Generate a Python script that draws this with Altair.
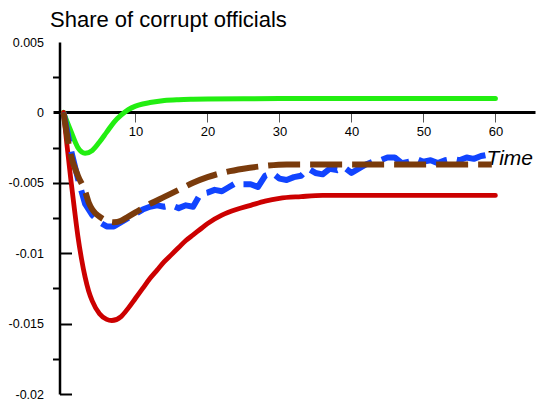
import altair as alt
import pandas as pd

# ---- data ----
G_T = [0, 1, 2, 3, 4, 5, 6, 7, 8, 9, 10, 11, 12, 13, 14, 16, 18, 20, 25, 30, 40, 50, 60]
G_Y = [0, -0.0013, -0.0025, -0.0029, -0.0027, -0.0021, -0.0014, -0.0007, -0.0002, 0.0002,
       0.00045, 0.0006, 0.0007, 0.00078, 0.00084, 0.0009, 0.00093, 0.00095, 0.00097, 0.00098,
       0.00098, 0.00098, 0.00098]

R_T = [0, 0.5, 1, 1.5, 2, 2.5, 3, 3.5, 4, 5, 6, 6.7, 8, 9, 10, 11, 12, 13, 14, 15, 16, 17, 18,
       19, 20, 22, 24, 26, 28, 30, 33, 36, 40, 50, 60]
R_Y = [0, -0.0024, -0.0047, -0.0068, -0.0088, -0.0104, -0.0117, -0.0127, -0.0134, -0.0143,
       -0.0147, -0.01478, -0.0145, -0.0139, -0.0132, -0.0125, -0.0118, -0.0112, -0.0106,
       -0.0101, -0.0096, -0.0091, -0.0087, -0.0083, -0.0079, -0.0073, -0.0069, -0.0066,
       -0.0063, -0.0061, -0.00598, -0.0059, -0.0059, -0.0059, -0.0059]

BL_T = [0, 1, 2, 2.5, 3, 4, 5, 6, 7, 8, 9, 10, 11, 12, 13, 14, 15, 16, 17, 18, 19, 20, 21, 22,
        23, 24, 25, 26, 27, 28, 29, 30, 31, 32, 33, 34, 35, 36, 37, 38, 39, 40, 41, 42, 43, 44,
        45, 46, 47, 48, 49, 50, 51, 52, 53, 54, 55, 56, 57, 58, 59, 60]
BL_Y = [0, -0.0026, -0.0047, -0.0056, -0.0065, -0.0073, -0.0078, -0.0081, -0.0081, -0.0078,
        -0.0075, -0.0072, -0.0069, -0.0067, -0.0066, -0.0067, -0.0066, -0.0068, -0.0066,
        -0.0067, -0.0058, -0.0057, -0.0055, -0.0056, -0.0053, -0.0050, -0.0051, -0.0051,
        -0.0053, -0.0045, -0.0043, -0.0047, -0.0048, -0.0046, -0.0045, -0.0040, -0.0043,
        -0.0044, -0.0040, -0.0041, -0.0039, -0.0043, -0.0040, -0.0037, -0.0035, -0.0034,
        -0.0032, -0.0032, -0.0036, -0.0035, -0.0033, -0.0035, -0.0034, -0.0036, -0.0034,
        -0.0033, -0.0034, -0.0032, -0.0033, -0.0031, -0.0030, -0.0029]

BR_T = [0, 1, 2, 3, 3.5, 4, 5, 6, 7, 8, 9, 10, 12, 14, 16, 18, 20, 22, 25, 28, 31, 35, 40, 50, 59.5]
BR_Y = [0, -0.0030, -0.0045, -0.0056, -0.0064, -0.0069, -0.0074, -0.0077, -0.0078, -0.0077,
        -0.0074, -0.0071, -0.0065, -0.0060, -0.0055, -0.0050, -0.0046, -0.0043, -0.0040,
        -0.0038, -0.0037, -0.0037, -0.0037, -0.0037, -0.0037]

X_TICKS = [10, 20, 30, 40, 50, 60]
Y_ALL = [-0.02, -0.0175, -0.015, -0.0125, -0.01, -0.0075, -0.005, -0.0025, 0, 0.0025, 0.005]
Y_MAJOR_IN = [-0.02, -0.015, -0.01, -0.005]
X_DOMAIN = [-1.46, 65.5]
Y_DOMAIN = [-0.02, 0.005]

FONT = "Liberation Sans"

green = pd.DataFrame({"t": G_T, "v": G_Y})
red = pd.DataFrame({"t": R_T, "v": R_Y})
blue = pd.DataFrame({"t": BL_T, "v": BL_Y})
brown = pd.DataFrame({"t": BR_T, "v": BR_Y})

x_enc = alt.X(
    "t:Q",
    scale=alt.Scale(domain=X_DOMAIN, nice=False, zero=False),
    axis=alt.Axis(
        orient="bottom", offset=-282, values=X_TICKS, grid=False,
        domainColor="black", domainWidth=3,
        tickColor="#555555", tickWidth=1, tickSize=10,
        labelPadding=3, labelFontSize=13, labelFont=FONT, labelColor="black",
        title="Time", titleFont=FONT, titleFontSize=21, titleFontStyle="italic",
        titleFontWeight="normal", titleColor="black",
        titleX=433, titleY=52, titleAlign="left", titleBaseline="alphabetic",
    ),
)

label_expr = ("abs(datum.value*200 - round(datum.value*200)) < 1e-6 ? "
              "(datum.value == 0 ? '0' : '' + datum.value) : ''")

y_left = alt.Y(
    "v:Q",
    scale=alt.Scale(domain=Y_DOMAIN, nice=False, zero=False),
    axis=alt.Axis(
        orient="left", offset=-6.5, values=Y_ALL, grid=False, title=None,
        domainColor="black", domainWidth=2.5,
        tickColor="black", tickWidth=2, tickSize=7,
        tickOpacity={"condition": {"test": "abs(datum.value*200 - round(datum.value*200)) > 1e-6 || datum.value == -0.005",
                                   "value": 1}, "value": 0},
        labelExpr=label_expr, labelPadding=9, labelFontSize=12.5, labelFont=FONT,
        labelColor="black",
    ),
)

y_right = alt.Y(
    "v:Q",
    scale=alt.Scale(domain=Y_DOMAIN, nice=False, zero=False),
    axis=alt.Axis(
        orient="right", offset=-475.5, values=Y_MAJOR_IN, grid=False, title=None,
        domain=False, labels=False, tickColor="black", tickWidth=2, tickSize=12,
    ),
)

def line(df, color, width, dash=None, cap="round", interp="monotone"):
    kw = dict(color=color, strokeWidth=width, strokeCap=cap, clip=False,
              interpolate=interp, strokeJoin="round")
    if dash:
        kw["strokeDash"] = dash
    return alt.Chart(df).mark_line(**kw).encode(x=x_enc, y=y_left)

lines = alt.layer(
    line(green, "#22ee11", 5),
    line(red, "#cc0000", 4.8),
    line(blue, "#1144ff", 6, [30, 10], "butt", "linear"),
    line(brown, "#7a3b0c", 6, [32, 10], "butt"),
)

inner_ticks = alt.Chart(brown).mark_line(opacity=0).encode(x=x_enc, y=y_right)

chart = alt.layer(lines, inner_ticks).resolve_axis(y="independent").properties(
    width=482,
    height=352,
    autosize=alt.AutoSizeParams(type="none"),
    padding={"left": 45, "top": 34, "right": 1, "bottom": 10},
    title=alt.TitleParams(
        "Share of corrupt officials", anchor="start", frame="group",
        font=FONT, fontSize=22, fontWeight="normal", color="black",
        dx=-3, dy=21, offset=8, baseline="alphabetic",
    ),
).configure_view(stroke=None)

chart.save("out.html", embed_options={"renderer": "svg", "actions": False})
